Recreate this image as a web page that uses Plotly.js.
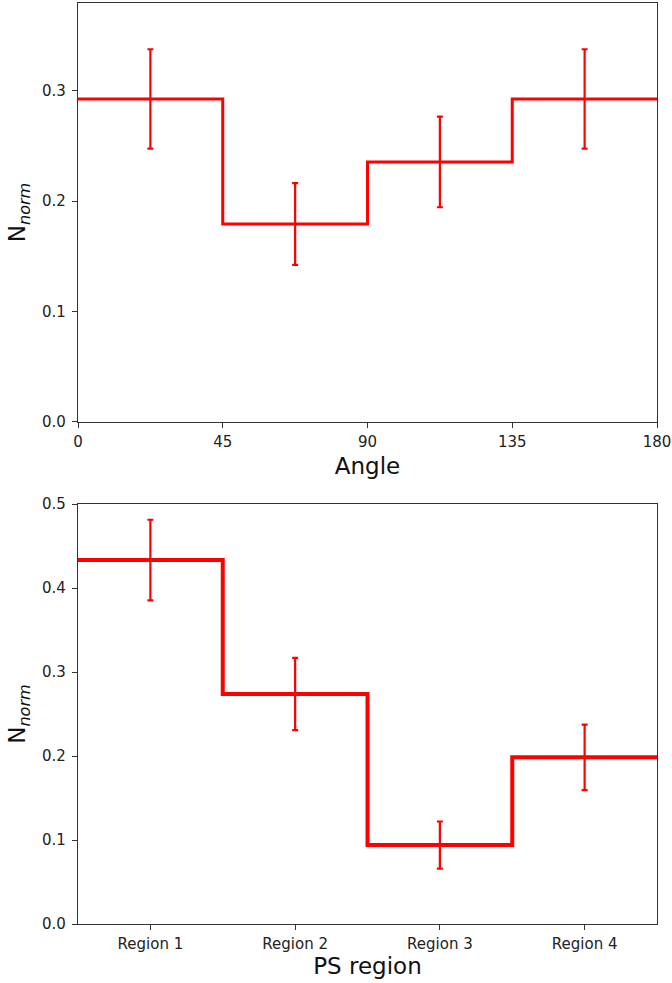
<!DOCTYPE html>
<html>
<head>
<meta charset="utf-8">
<script src="https://cdn.plot.ly/plotly-3.0.1.min.js"></script>
<style>html,body{margin:0;padding:0;background:#fff;}#plot{width:672px;height:983px;}</style>
</head>
<body>
<div id="plot"></div>
<script>
// Top panel: angle bins
const angleEdges = [0, 45, 90, 135, 180];
const angleValues = [0.2926, 0.1793, 0.2355, 0.2926];
const angleErrors = [0.045, 0.037, 0.041, 0.045];
const angleTicks = [0, 45, 90, 135, 180];

// Bottom panel: PS regions
const regionLabels = ['Region 1', 'Region 2', 'Region 3', 'Region 4'];
const regionValues = [0.4333, 0.2738, 0.0940, 0.1984];
const regionErrors = [0.048, 0.043, 0.028, 0.039];

const red = '#ff0000';
const angleCenters = angleValues.map((_, i) => (angleEdges[i] + angleEdges[i + 1]) / 2);
const regionIdx = regionLabels.map((_, i) => i);
const regionEdges = regionLabels.map((_, i) => i - 0.5).concat([regionLabels.length - 0.5]);

const traces = [
  {x: angleEdges, y: angleValues.concat([angleValues[angleValues.length - 1]]),
   mode: 'lines', line: {shape: 'hv', color: red, width: 3}, xaxis: 'x', yaxis: 'y', hoverinfo: 'skip'},
  {x: angleCenters, y: angleValues, mode: 'markers', marker: {size: 1, color: 'rgba(0,0,0,0)'},
   error_y: {type: 'data', array: angleErrors, visible: true, color: red, thickness: 2.2, width: 3},
   xaxis: 'x', yaxis: 'y'},
  {x: regionEdges, y: regionValues.concat([regionValues[regionValues.length - 1]]),
   mode: 'lines', line: {shape: 'hv', color: red, width: 4}, xaxis: 'x2', yaxis: 'y2', hoverinfo: 'skip'},
  {x: regionIdx, y: regionValues, mode: 'markers', marker: {size: 1, color: 'rgba(0,0,0,0)'},
   error_y: {type: 'data', array: regionErrors, visible: true, color: red, thickness: 2.2, width: 3},
   xaxis: 'x2', yaxis: 'y2'}
];

const font = {family: 'DejaVu Sans, sans-serif', color: '#222'};
const axCommon = {
  showline: true, mirror: true, linecolor: '#333', linewidth: 1.2,
  showgrid: false, zeroline: false, ticks: 'outside', ticklen: 5, tickwidth: 1, tickcolor: '#333',
  tickfont: {family: 'DejaVu Sans, sans-serif', size: 15, color: '#222'}
};
const titleFont = {family: 'DejaVu Sans, sans-serif', size: 23, color: '#111'};

const layout = {
  width: 672, height: 983,
  margin: {l: 78, r: 15, t: 3, b: 59},
  paper_bgcolor: '#fff', plot_bgcolor: '#fff',
  showlegend: false, font: font,
  xaxis: Object.assign({}, axCommon, {
    domain: [0, 1], anchor: 'y', range: [0, 180], tickvals: angleTicks, ticklabelstandoff: 1,
    title: {text: 'Angle', font: titleFont, standoff: 7}
  }),
  yaxis: Object.assign({}, axCommon, {
    domain: [0.5451, 1], anchor: 'x', range: [0, 0.3795], dtick: 0.1, tick0: 0, tickformat: '.1f',
    ticklabelstandoff: 3,
    title: {text: 'N<sub><i>norm</i></sub>', font: titleFont, standoff: 9}
  }),
  xaxis2: Object.assign({}, axCommon, {
    domain: [0, 1], anchor: 'y2', range: [-0.5, 3.5], tickvals: regionIdx, ticktext: regionLabels,
    ticklabelstandoff: 1,
    title: {text: 'PS region', font: titleFont, standoff: 5}
  }),
  yaxis2: Object.assign({}, axCommon, {
    domain: [0, 0.456], anchor: 'x2', range: [0, 0.5], dtick: 0.1, tick0: 0, tickformat: '.1f',
    ticklabelstandoff: 3,
    title: {text: 'N<sub><i>norm</i></sub>', font: titleFont, standoff: 9}
  })
};

Plotly.newPlot('plot', traces, layout, {displayModeBar: false, staticPlot: true});
</script>
</body>
</html>
